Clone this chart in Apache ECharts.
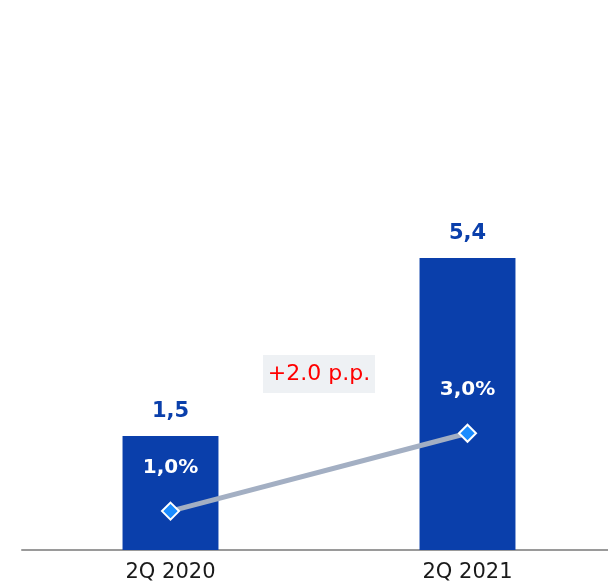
<!DOCTYPE html>
<html>
<head>
<meta charset="utf-8">
<script src="https://cdn.jsdelivr.net/npm/echarts@6/dist/echarts.min.js"></script>
<style>html,body{margin:0;padding:0;background:#fff;overflow:hidden}#c{width:620px;height:587px}</style>
</head>
<body>
<div id="c"></div>
<script>
const categories = ['2Q 2020', '2Q 2021'];
const barValues = [1.5, 5.4];
const lineValues = [1.0, 3.0];
const changeLabel = '+2.0 p.p.';

const FONT = 'DejaVu Sans';
const BAR_MIN = -1, BAR_MAX = 10;
const fmtComma = (v, d) => v.toFixed(d).replace('.', ',');

const chart = echarts.init(document.getElementById('c'), null, {renderer: 'canvas'});
chart.setOption({
  animation: false,
  grid: {left: 22, right: 4, top: 48, bottom: 37, containLabel: false},
  xAxis: {
    type: 'category', data: categories, boundaryGap: true,
    axisLine: {show: true, onZero: false, lineStyle: {color: '#9a9a9a', width: 2}},
    axisTick: {show: false},
    axisLabel: {color: '#1a1a1a', fontFamily: FONT, fontSize: 21, margin: 12}
  },
  yAxis: [
    {type: 'value', min: BAR_MIN, max: BAR_MAX, show: false},
    {type: 'value', min: 0, max: 12.9, show: false}
  ],
  series: [
    {
      type: 'custom', yAxisIndex: 0, clip: false,
      data: barValues.map((v, i) => [i, v]),
      renderItem: function (params, api) {
        const i = api.value(0), v = api.value(1);
        const top = api.coord([i, v]);
        const base = api.coord([i, BAR_MIN]);
        const w = api.size([1, 0])[0] * 0.323;
        return {
          type: 'rect',
          shape: {x: top[0] - w / 2, y: top[1], width: w, height: base[1] - top[1]},
          style: {fill: '#0a3fab'},
          textContent: {style: {text: fmtComma(v, 1), fill: '#0a3fab', font: 'bold 21px ' + FONT}},
          textConfig: {position: 'top', distance: 14}
        };
      }
    },
    {
      type: 'line', yAxisIndex: 1, data: lineValues,
      symbol: 'diamond', symbolSize: 17,
      itemStyle: {color: '#1a8cff', borderColor: '#ffffff', borderWidth: 2},
      lineStyle: {color: '#a3afc3', width: 5},
      label: {
        show: true, position: 'top', distance: 24, color: '#ffffff',
        fontFamily: FONT, fontWeight: 'bold', fontSize: 20,
        formatter: p => fmtComma(p.value, 1) + '%'
      },
      z: 5
    }
  ],
  graphic: [
    {type: 'rect', left: 263, top: 355, shape: {width: 112, height: 38}, style: {fill: '#eef1f4'}},
    {type: 'text', x: 319, y: 374, style: {text: changeLabel, fill: '#ff0000', font: '22px ' + FONT, align: 'center', verticalAlign: 'middle'}}
  ]
});
</script>
</body>
</html>
